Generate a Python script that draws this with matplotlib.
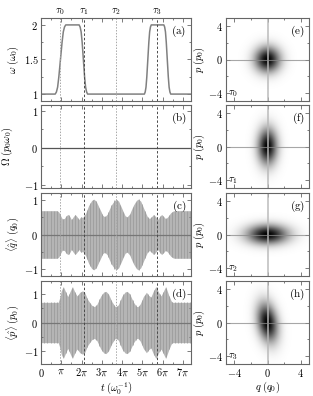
import numpy as np
import matplotlib
matplotlib.use('Agg')
import matplotlib.pyplot as plt
from matplotlib.ticker import MultipleLocator, FixedLocator, FuncFormatter

plt.rcParams['mathtext.fontset'] = 'cm'
plt.rcParams['font.family'] = 'serif'
plt.rcParams['font.serif'] = ['DejaVu Serif']
plt.rcParams['font.size'] = 7.5

# all times in units of pi
tau = [0.92, 2.13, 3.72, 5.74]
tau_names = [r'$\tau_0$', r'$\tau_1$', r'$\tau_2$', r'$\tau_3$']

# frequency pulses (a)
t_om = [0.0, 0.70, 0.76, 0.82, 0.88, 0.96, 1.04, 1.10, 1.16, 1.22,
        1.88, 1.93, 1.98, 2.03, 2.09, 2.15, 2.20, 2.25, 2.30,
        5.10, 5.14, 5.18, 5.22, 5.27, 5.32, 5.36, 5.40, 5.44,
        6.06, 6.10, 6.14, 6.18, 6.23, 6.28, 6.32, 6.36, 6.40, 7.4]
om = [1.0, 1.0, 1.03, 1.10, 1.25, 1.50, 1.75, 1.90, 1.97, 2.0,
      2.0, 1.97, 1.90, 1.75, 1.50, 1.25, 1.10, 1.03, 1.0,
      1.0, 1.03, 1.10, 1.25, 1.50, 1.75, 1.90, 1.97, 2.0,
      2.0, 1.97, 1.90, 1.75, 1.50, 1.25, 1.10, 1.03, 1.0, 1.0]

# envelope of <q> oscillation (c)
t_q = [0.0, 0.80, 0.88, 0.95, 1.05, 1.15, 1.24, 1.33, 1.42, 1.50, 1.59,
       1.68, 1.77, 1.86, 1.96, 2.06, 2.2, 2.35, 2.5, 2.6, 2.72, 2.9,
       3.05, 3.15, 3.27, 3.45, 3.62, 3.72, 3.83, 4.0, 4.15, 4.25, 4.37,
       4.55, 4.7, 4.8, 4.92, 5.1, 5.25, 5.35, 5.45, 5.55, 5.65, 5.75,
       5.85, 5.95, 6.05, 6.15, 6.25, 6.4, 6.52, 6.6, 7.4]
q_env = [0.70, 0.70, 0.66, 0.57, 0.46, 0.47, 0.55, 0.59, 0.53, 0.44, 0.52,
         0.59, 0.53, 0.44, 0.52, 0.50, 0.62, 0.85, 1.0, 1.04, 0.98, 0.75,
         0.56, 0.52, 0.6, 0.85, 1.0, 1.03, 0.98, 0.75, 0.55, 0.52, 0.6,
         0.85, 1.0, 1.04, 0.98, 0.72, 0.52, 0.47, 0.52, 0.59, 0.53, 0.44,
         0.52, 0.59, 0.53, 0.46, 0.52, 0.64, 0.69, 0.70, 0.70]

# envelope of <p> oscillation (d)
t_p = [0.0, 0.85, 0.92, 1.0, 1.1, 1.22, 1.32, 1.45, 1.55, 1.67, 1.78,
       1.92, 2.05, 2.15, 2.3, 2.5, 2.63, 2.75, 2.95, 3.1, 3.2, 3.32, 3.5,
       3.65, 3.72, 3.82, 4.0, 4.15, 4.25, 4.37, 4.55, 4.7, 4.78, 4.9,
       5.05, 5.2, 5.3, 5.42, 5.55, 5.67, 5.8, 5.92, 6.05, 6.15, 6.3,
       6.42, 6.5, 7.4]
p_env = [0.70, 0.70, 0.85, 1.1, 1.25, 1.05, 0.9, 1.1, 1.25, 1.05, 0.92,
         1.05, 1.1, 1.05, 0.8, 0.6, 0.55, 0.62, 0.92, 1.06, 1.08, 1.0, 0.72,
         0.56, 0.55, 0.62, 0.92, 1.06, 1.08, 1.0, 0.72, 0.56, 0.55, 0.65,
         0.9, 1.05, 0.95, 0.88, 1.1, 1.25, 1.05, 0.92, 1.1, 1.25, 0.95,
         0.75, 0.70, 0.70]

# phase-space gaussians (e)-(h): width in q, width in p, correlation
sig_q = [1.05, 0.8, 1.7, 0.85]
sig_p = [1.05, 1.5, 0.8, 1.6]
rho = [0.0, 0.0, 0.0, -0.25]
panel_left = ['a', 'b', 'c', 'd']
panel_right = ['e', 'f', 'g', 'h']

fig = plt.figure(figsize=(3.13, 3.96), dpi=100)
W, H = 313.0, 396.0
tops = [18, 105, 193, 281]
hh = 83
frame = '#666666'

def mfmt(v, pos):
    return '$%g$' % v

def style(ax):
    for s in ax.spines.values():
        s.set_color(frame)
        s.set_linewidth(0.8)
    ax.tick_params(which='both', direction='in', top=True, right=True,
                   color=frame, width=0.6, pad=2, labelsize=7.5)
    ax.tick_params(which='major', length=3)
    ax.tick_params(which='minor', length=1.5)

pi_labels = ['$0$', r'$\pi$'] + [r'$%d\pi$' % k for k in range(2, 8)]
tl_col = ['#a8a8a8', '#4a4a4a', '#a8a8a8', '#4a4a4a']
tl_ls = [(0, (1.5, 1.5)), (0, (2.5, 2)), (0, (1.5, 1.5)), (0, (2.5, 2))]

left_axes = []
for i in range(4):
    ax = fig.add_axes([41 / W, 1 - (tops[i] + hh) / H, 150 / W, hh / H])
    style(ax)
    ax.set_xlim(0, 7.4)
    ax.xaxis.set_major_locator(MultipleLocator(1))
    ax.xaxis.set_minor_locator(MultipleLocator(0.5))
    ax.yaxis.set_major_formatter(FuncFormatter(mfmt))
    if i == 3:
        ax.set_xticks(range(8))
        ax.set_xticklabels(pi_labels)
        ax.set_xlabel(r'$t\;\left(\omega_0^{-1}\right)$', labelpad=1)
    else:
        ax.set_xticklabels([])
    left_axes.append(ax)

ax = left_axes[0]
ax.plot(t_om, om, color='#808080', lw=1.1)
ax.set_ylim(0.9, 2.1)
ax.set_yticks([1, 1.5, 2])
ax.yaxis.set_minor_locator(MultipleLocator(0.25))
ax.set_ylabel(r'$\omega\;(\omega_0)$', labelpad=2)
sec = ax.secondary_xaxis('top')
sec.set_xticks(tau)
sec.set_xticklabels(tau_names)
sec.tick_params(length=0, pad=0.5, labelsize=7.5)
sec.spines['top'].set_visible(False)

ax = left_axes[1]
ax.axhline(0, color='#555555', lw=0.9)
ax.set_ylim(-1.08, 1.15)
ax.set_yticks([-1, 0, 1])
ax.yaxis.set_minor_locator(MultipleLocator(0.5))
ax.set_ylabel(r'$\Omega\;(p_0\omega_0)$', labelpad=6)

stripe_t = np.arange(0.02, 7.4, 0.15)
for ax, tt, env, lim, lab in [(left_axes[2], t_q, q_env, 1.22, r'$\langle\hat{q}\rangle\;(q_0)$'),
                              (left_axes[3], t_p, p_env, 1.44, r'$\langle\hat{p}\rangle\;(p_0)$')]:
    env = np.array(env)
    ax.fill_between(tt, -env, env, color='#b5b5b5', lw=0)
    h = np.interp(stripe_t, tt, env)
    ax.vlines(stripe_t, -h, h, color='#979797', lw=0.5)
    ax.axhline(0, color='#777777', lw=0.9)
    ax.set_ylim(-lim, lim)
    ax.set_yticks([-1, 0, 1])
    ax.yaxis.set_minor_locator(MultipleLocator(0.5))
    ax.set_ylabel(lab, labelpad=2)

for i, ax in enumerate(left_axes):
    for k in range(4):
        ax.axvline(tau[k], color=tl_col[k], ls=tl_ls[k], lw=0.7)
    ax.text(0.97, 0.93, r'$\mathrm{(%s)}$' % panel_left[i], transform=ax.transAxes,
            ha='right', va='top', fontsize=8)

qq = np.linspace(-5, 5, 201)
Q, P = np.meshgrid(qq, qq)
for i in range(4):
    ax = fig.add_axes([226 / W, 1 - (tops[i] + hh) / H, 83 / W, hh / H])
    style(ax)
    sq, sp, r = sig_q[i], sig_p[i], rho[i]
    z = (Q / sq) ** 2 + (P / sp) ** 2 - 2 * r * Q * P / (sq * sp)
    img = np.exp(-0.5 * z / (1 - r ** 2))
    ax.imshow(img, extent=[-5, 5, -5, 5], origin='lower', cmap='gray_r',
              vmin=0, vmax=1.0, interpolation='bilinear', aspect='auto')
    ax.axvline(0, color='#b8b8b8', lw=1.4, alpha=0.75)
    ax.axhline(0, color='#8a8a8a', lw=0.8, alpha=0.75)
    ax.set_xlim(-5, 5)
    ax.set_ylim(-5, 5)
    ax.set_xticks([-4, 0, 4])
    ax.set_yticks([-4, 0, 4])
    ax.xaxis.set_minor_locator(FixedLocator([-2, 2]))
    ax.yaxis.set_minor_locator(FixedLocator([-2, 2]))
    ax.yaxis.set_major_formatter(FuncFormatter(mfmt))
    ax.xaxis.set_major_formatter(FuncFormatter(mfmt))
    ax.set_ylabel(r'$p\;(p_0)$', labelpad=1)
    if i == 3:
        ax.set_xlabel(r'$q\;(q_0)$', labelpad=1)
    else:
        ax.set_xticklabels([])
    ax.text(0.95, 0.93, r'$\mathrm{(%s)}$' % panel_right[i], transform=ax.transAxes,
            ha='right', va='top', fontsize=8)
    ax.text(0.03, 0.02, tau_names[i], transform=ax.transAxes,
            ha='left', va='bottom', fontsize=7.5)

fig.savefig('out.png', dpi=100)
